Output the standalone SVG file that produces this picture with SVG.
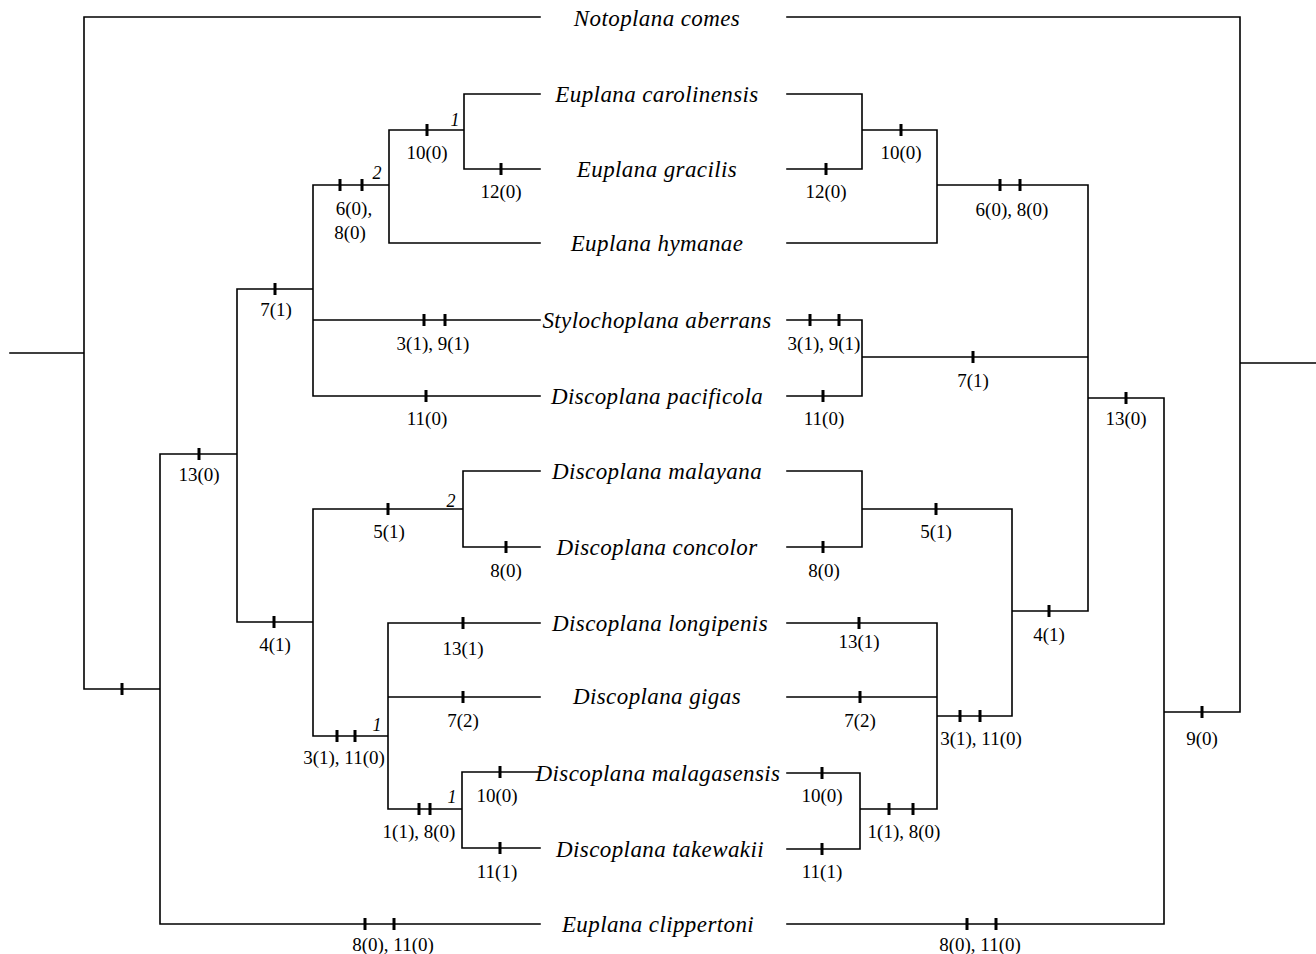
<svg xmlns="http://www.w3.org/2000/svg" xmlns:xlink="http://www.w3.org/1999/xlink" width="1316" height="954" viewBox="0 0 1316 954">
<style>
.br{fill:none;stroke:#000;stroke-width:1.6;stroke-linecap:square}
.tx{font-family:"Liberation Serif","Times New Roman",serif;font-style:italic;font-size:23px;letter-spacing:0.4px;text-anchor:middle;fill:#000}
.ch{font-family:"Liberation Serif","Times New Roman",serif;font-size:19px;text-anchor:middle;fill:#000}
.sp{font-family:"Liberation Serif","Times New Roman",serif;font-style:italic;font-size:18px;text-anchor:middle;fill:#000}
</style>
<defs>
<rect id="t" x="-1.5" y="-6" width="3" height="12" fill="#000"/>
</defs>
<rect width="1316" height="954" fill="#fff"/>
<g id="connectors">
<path class="br" d="M10 353H84M84 17V689M84 17H540M84 689H160M160 454V924M160 924H540M160 454H237M237 289V622M237 289H313M313 185V396M313 185H389M389 130V243M389 130H464M464 94V169M464 94H540M464 169H540M389 243H540M313 320H540M313 396H540M237 622H313M313 509V736M313 509H463M463 471V547M463 471H540M463 547H540M313 736H388M388 623V809M388 623H540M388 697H540M388 809H462M462 772V848M462 772H540M462 848H540"/>
<path class="br" d="M787 17H1240M1240 17V712M1240 363H1316M1164 712H1240M1164 398V924M787 924H1164M1088 398H1164M1088 185V611M937 185H1088M937 130V243M862 130H937M862 94V169M787 94H862M787 169H862M787 243H937M862 357H1088M862 320V396M787 320H862M787 396H862M1012 611H1088M1012 509V716M862 509H1012M862 471V547M787 471H862M787 547H862M937 716H1012M937 623V809M787 623H937M787 697H937M860 809H937M860 773V849M787 773H860M787 849H860"/>
</g>
<g id="ticks-left">
<use xlink:href="#t" x="122" y="689"/>
<use xlink:href="#t" x="365" y="924"/><use xlink:href="#t" x="394" y="924"/>
<use xlink:href="#t" x="199" y="454"/>
<use xlink:href="#t" x="275" y="289"/>
<use xlink:href="#t" x="340" y="185"/><use xlink:href="#t" x="362" y="185"/>
<use xlink:href="#t" x="427" y="130"/>
<use xlink:href="#t" x="501" y="169"/>
<use xlink:href="#t" x="424" y="320"/><use xlink:href="#t" x="445" y="320"/>
<use xlink:href="#t" x="426" y="396"/>
<use xlink:href="#t" x="274" y="622"/>
<use xlink:href="#t" x="388" y="509"/>
<use xlink:href="#t" x="506" y="547"/>
<use xlink:href="#t" x="337" y="736"/><use xlink:href="#t" x="355" y="736"/>
<use xlink:href="#t" x="463" y="623"/>
<use xlink:href="#t" x="463" y="697"/>
<use xlink:href="#t" x="419" y="809"/><use xlink:href="#t" x="430" y="809"/>
<use xlink:href="#t" x="500" y="772"/>
<use xlink:href="#t" x="500" y="848"/>
</g>
<g id="ticks-right">
<use xlink:href="#t" x="1202" y="712"/>
<use xlink:href="#t" x="967" y="924"/><use xlink:href="#t" x="996" y="924"/>
<use xlink:href="#t" x="1126" y="398"/>
<use xlink:href="#t" x="1000" y="185"/><use xlink:href="#t" x="1020" y="185"/>
<use xlink:href="#t" x="901" y="130"/>
<use xlink:href="#t" x="826" y="169"/>
<use xlink:href="#t" x="973" y="357"/>
<use xlink:href="#t" x="810" y="320"/><use xlink:href="#t" x="839" y="320"/>
<use xlink:href="#t" x="823" y="396"/>
<use xlink:href="#t" x="1049" y="611"/>
<use xlink:href="#t" x="936" y="509"/>
<use xlink:href="#t" x="823" y="547"/>
<use xlink:href="#t" x="960" y="716"/><use xlink:href="#t" x="980" y="716"/>
<use xlink:href="#t" x="859" y="623"/>
<use xlink:href="#t" x="860" y="697"/>
<use xlink:href="#t" x="889" y="809"/><use xlink:href="#t" x="913" y="809"/>
<use xlink:href="#t" x="822" y="773"/>
<use xlink:href="#t" x="822" y="849"/>
</g>
<g id="labels-left">
<text class="ch" x="393" y="951">8(0), 11(0)</text>
<text class="ch" x="199" y="481">13(0)</text>
<text class="ch" x="276" y="316">7(1)</text>
<text class="ch" x="354" y="215">6(0),</text>
<text class="ch" x="350" y="239">8(0)</text>
<text class="sp" x="377" y="179">2</text>
<text class="ch" x="427" y="159">10(0)</text>
<text class="sp" x="455" y="126">1</text>
<text class="ch" x="501" y="198">12(0)</text>
<text class="ch" x="433" y="350">3(1), 9(1)</text>
<text class="ch" x="427" y="425">11(0)</text>
<text class="ch" x="275" y="651">4(1)</text>
<text class="ch" x="389" y="538">5(1)</text>
<text class="sp" x="451" y="507">2</text>
<text class="ch" x="506" y="577">8(0)</text>
<text class="ch" x="344" y="764">3(1), 11(0)</text>
<text class="sp" x="377" y="731">1</text>
<text class="ch" x="463" y="655">13(1)</text>
<text class="ch" x="463" y="727">7(2)</text>
<text class="ch" x="419" y="838">1(1), 8(0)</text>
<text class="sp" x="452" y="803">1</text>
<text class="ch" x="497" y="802">10(0)</text>
<text class="ch" x="497" y="878">11(1)</text>
</g>
<g id="labels-right">
<text class="ch" x="1202" y="745">9(0)</text>
<text class="ch" x="980" y="951">8(0), 11(0)</text>
<text class="ch" x="1126" y="425">13(0)</text>
<text class="ch" x="1012" y="216">6(0), 8(0)</text>
<text class="ch" x="901" y="159">10(0)</text>
<text class="ch" x="826" y="198">12(0)</text>
<text class="ch" x="973" y="387">7(1)</text>
<text class="ch" x="824" y="350">3(1), 9(1)</text>
<text class="ch" x="824" y="425">11(0)</text>
<text class="ch" x="1049" y="641">4(1)</text>
<text class="ch" x="936" y="538">5(1)</text>
<text class="ch" x="824" y="577">8(0)</text>
<text class="ch" x="981" y="745">3(1), 11(0)</text>
<text class="ch" x="859" y="648">13(1)</text>
<text class="ch" x="860" y="727">7(2)</text>
<text class="ch" x="904" y="838">1(1), 8(0)</text>
<text class="ch" x="822" y="802">10(0)</text>
<text class="ch" x="822" y="878">11(1)</text>
</g>
<g id="taxa">
<g id="n-notoplana-comes"><text class="tx" x="657" y="26">Notoplana comes</text></g>
<g id="n-euplana-carolinensis"><text class="tx" x="657" y="102">Euplana carolinensis</text></g>
<g id="n-euplana-gracilis"><text class="tx" x="657" y="177">Euplana gracilis</text></g>
<g id="n-euplana-hymanae"><text class="tx" x="657" y="251">Euplana hymanae</text></g>
<g id="n-stylochoplana-aberrans"><text class="tx" x="657" y="328">Stylochoplana aberrans</text></g>
<g id="n-discoplana-pacificola"><text class="tx" x="657" y="404">Discoplana pacificola</text></g>
<g id="n-discoplana-malayana"><text class="tx" x="657" y="479">Discoplana malayana</text></g>
<g id="n-discoplana-concolor"><text class="tx" x="657" y="555">Discoplana concolor</text></g>
<g id="n-discoplana-longipenis"><text class="tx" x="660" y="631">Discoplana longipenis</text></g>
<g id="n-discoplana-gigas"><text class="tx" x="657" y="704">Discoplana gigas</text></g>
<g id="n-discoplana-malagasensis"><text class="tx" x="658" y="781">Discoplana malagasensis</text></g>
<g id="n-discoplana-takewakii"><text class="tx" x="660" y="857">Discoplana takewakii</text></g>
<g id="n-euplana-clippertoni"><text class="tx" x="658" y="932">Euplana clippertoni</text></g>
</g>
</svg>
